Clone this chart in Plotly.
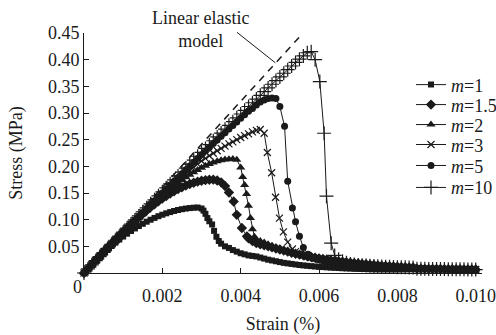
import plotly.graph_objects as go

# ---------------- data ----------------
# shared strain grid, 0.0000 ... 0.0100 step 1e-4
STRAIN_GRID = [0.0000, 0.0001, 0.0002, 0.0003, 0.0004, 0.0005, 0.0006, 0.0007, 0.0008, 0.0009,
               0.0010, 0.0011, 0.0012, 0.0013, 0.0014, 0.0015, 0.0016, 0.0017, 0.0018, 0.0019,
               0.0020, 0.0021, 0.0022, 0.0023, 0.0024, 0.0025, 0.0026, 0.0027, 0.0028, 0.0029,
               0.0030, 0.0031, 0.0032, 0.0033, 0.0034, 0.0035, 0.0036, 0.0037, 0.0038, 0.0039,
               0.0040, 0.0041, 0.0042, 0.0043, 0.0044, 0.0045, 0.0046, 0.0047, 0.0048, 0.0049,
               0.0050, 0.0051, 0.0052, 0.0053, 0.0054, 0.0055, 0.0056, 0.0057, 0.0058, 0.0059,
               0.0060, 0.0061, 0.0062, 0.0063, 0.0064, 0.0065, 0.0066, 0.0067, 0.0068, 0.0069,
               0.0070, 0.0071, 0.0072, 0.0073, 0.0074, 0.0075, 0.0076, 0.0077, 0.0078, 0.0079,
               0.0080, 0.0081, 0.0082, 0.0083, 0.0084, 0.0085, 0.0086, 0.0087, 0.0088, 0.0089,
               0.0090, 0.0091, 0.0092, 0.0093, 0.0094, 0.0095, 0.0096, 0.0097, 0.0098, 0.0099,
               0.0100]

# common residual tail for strain 0.0085 ... 0.0100
FAR_TAIL = [0.0080, 0.0079, 0.0078, 0.0077, 0.0076, 0.0075, 0.0074, 0.0073,
            0.0072, 0.0071, 0.0070, 0.0069, 0.0068, 0.0067, 0.0066, 0.0065]

# m = 1
M1_RISE = [0, .0081, .0159, .0234, .0306, .0376, .0443, .0507, .0569, .0627,
           .0683, .0737, .0787, .0835, .0880, .0922, .0962, .0999, .1033, .1065,
           .1093, .1119, .1142, .1163, .1181, .1196, .1208, .1217, .1224, .1228, .1210]
M1_DROP_X = [.00305, .0031, .00315, .0032, .00327, .00332, .00338, .00344, .0035, .0036,
             .0037, .0038, .0039, .0040, .0041, .0042, .0043, .0044]
M1_DROP_Y = [.117, .111, .103, .097, .091, .079, .068, .060, .055, .050,
             .047, .043, .040, .037, .035, .033, .032, .031]
M1_TAIL = [.029, .027, .025, .0235, .022, .0205, .019, .018, .017, .016,
           .015, .0142, .0135, .0128, .0122, .0116, .0111, .0106, .0101, .0097,
           .0093, .0089, .0086, .0083, .0080, .0078, .0076, .0074, .0072, .0071,
           .0070, .0069, .0069, .0068, .0068, .0068, .0069, .0070, .0071, .0072]

# m = 1.5
M15_RISE = [0, .0080, .0159, .0238, .0317, .0395, .0472, .0549, .0624, .0698,
            .0772, .0843, .0913, .0981, .1047, .1111, .1173, .1233, .1290, .1345,
            .1396, .1445, .1491, .1534, .1572, .1609, .1641, .1669, .1693, .1713,
            .1730, .1741, .1748, .1750, .1735, .1700, .1630]
M15_DROP_X = [.0037, .00382, .0039, .00403, .00416, .0042, .0043, .0044]
M15_DROP_Y = [.151, .134, .109, .0845, .0687, .065, .060, .056]
M15_TAIL = [.054, .052, .050, .048, .046, .044, .042, .040, .038, .036,
            .0345, .033, .0315, .030, .0287, .0275, .0263, .0252, .0241, .0231,
            .0221, .0212, .0203, .0194, .0186, .0178, .0170, .0163, .0156, .0149,
            .0143, .0137, .0131, .0126, .0121, .0116, .0112, .0108, .0105, .0102]

# m = 2
M2_RISE = [0, .0075, .0150, .0225, .0300, .0375, .0450, .0524, .0599, .0673,
           .0747, .0820, .0893, .0965, .1037, .1108, .1178, .1247, .1314, .1381,
           .1445, .1509, .1570, .1629, .1687, .1742, .1794, .1843, .1890, .1933,
           .1973, .2009, .2042, .2070, .2093, .2112, .2126, .2135, .2137, .2125, .1980]
M2_DROP_X = [.00405, .0041, .00415, .0042, .00425, .0043, .00435, .0044]
M2_DROP_Y = [.180, .165, .148, .126, .103, .082, .068, .063]
M2_TAIL = [.060, .057, .054, .051, .048, .046, .043, .041, .039, .037,
           .035, .0335, .032, .0305, .029, .0277, .0265, .0253, .0242, .0232,
           .0222, .0212, .0203, .0194, .0186, .0178, .0170, .0163, .0156, .0149,
           .0143, .0137, .0131, .0126, .0121, .0116, .0112, .0108, .0105, .0102]

# m = 3
M3_RISE = [0, .0078, .0156, .0234, .0312, .0390, .0466, .0542, .0618, .0694,
           .0770, .0843, .0916, .0988, .1059, .1130, .1200, .1270, .1340, .1410,
           .1480, .1545, .1610, .1674, .1737, .1800, .1860, .1920, .1980, .2040,
           .2100, .2150, .2198, .2245, .2292, .2338, .2380, .2420, .2460, .2500,
           .2540, .2575, .2610, .2645, .2675, .2690, .2620]
M3_DROP_X = [.00468, .00479, .00489, .00499, .00509, .0052, .00532, .0054]
M3_DROP_Y = [.226, .188, .142, .103, .077, .058, .045, .040]
M3_TAIL = [.036, .033, .031, .029, .027, .0255, .024, .0228, .0216, .0205,
           .0195, .0186, .0177, .0169, .0161, .0154, .0147, .0141, .0135, .013,
           .0125, .012, .0116, .0112, .0109, .0107, .0105, .0104, .0103, .0102]

# m = 5
M5_RISE = [0, .0077, .0154, .0231, .0307, .0383, .0459, .0536, .0611, .0687,
           .0762, .0837, .0912, .0987, .1061, .1136, .1209, .1283, .1356, .1429,
           .1502, .1575, .1648, .1720, .1791, .1863, .1934, .2006, .2076, .2147,
           .2217, .2287, .2356, .2426, .2494, .2563, .2631, .2700, .2766, .2833,
           .2901, .2967, .3034, .3085, .3150, .3205, .3245, .3270, .3280, .3270, .3120]
M5_DROP_X = [.00512, .0052, .00532, .0054, .0055, .0056, .00572]
M5_DROP_Y = [.275, .172, .122, .096, .069, .048, .035]
M5_TAIL = [.030, .027, .025, .023, .0215, .020, .019, .018, .017, .0162,
           .0155, .0148, .0142, .0137, .0132, .0128, .0124, .012, .0117, .0114,
           .0111, .0109, .0107, .0105, .0104, .0103, .0102]

# m = 10
M10_RISE = [0, .0077, .0154, .0231, .0308, .0384, .0461, .0538, .0614, .0691,
            .0767, .0843, .0919, .0995, .1071, .1147, .1222, .1297, .1372, .1447,
            .1522, .1597, .1672, .1746, .1820, .1894, .1968, .2042, .2115, .2189,
            .2262, .2335, .2407, .2480, .2552, .2624, .2696, .2768, .2838, .2909,
            .2981, .3051, .3122, .3192, .3262, .3332, .3401, .3470, .3539, .3608,
            .3677, .3745, .3813, .3881, .3948, .4010, .4070, .4130, .4150]
M10_DROP_X = [.0059, .00602, .00613, .00619, .00631, .0064]
M10_DROP_Y = [.400, .359, .262, .144, .056, .033]
M10_TAIL = [.026, .022, .019, .017, .0158, .015, .0145, .014, .0135, .013,
            .0126, .0122, .0119, .0116, .0113, .011, .0108, .0106, .0104, .0102]

# linear elastic model (dashed)
ELASTIC_X = [0.0, 0.00553]
ELASTIC_Y = [0.0, 0.445]

LABELS = ["<i>m</i>=1", "<i>m</i>=1.5", "<i>m</i>=2", "<i>m</i>=3", "<i>m</i>=5", "<i>m</i>=10"]
Y_TICKS = [0.05, 0.10, 0.15, 0.20, 0.25, 0.30, 0.35, 0.40, 0.45]
Y_TICKTEXT = ["0.05", "0.10", "0.15", "0.20", "0.25", "0.30", "0.35", "0.40", "0.45"]
X_TICKS = [0.002, 0.004, 0.006, 0.008, 0.010]
X_TICKTEXT = ["0.002", "0.004", "0.006", "0.008", "0.010"]


def build(rise, dx, dy, tail):
    start = 85 - len(tail)
    x = STRAIN_GRID[:len(rise)] + dx + STRAIN_GRID[start:85] + STRAIN_GRID[85:]
    y = rise + dy + tail + FAR_TAIL
    return x, y


series = [
    build(M1_RISE, M1_DROP_X, M1_DROP_Y, M1_TAIL),
    build(M15_RISE, M15_DROP_X, M15_DROP_Y, M15_TAIL),
    build(M2_RISE, M2_DROP_X, M2_DROP_Y, M2_TAIL),
    build(M3_RISE, M3_DROP_X, M3_DROP_Y, M3_TAIL),
    build(M5_RISE, M5_DROP_X, M5_DROP_Y, M5_TAIL),
    build(M10_RISE, M10_DROP_X, M10_DROP_Y, M10_TAIL),
]

INK = "#1a1a1a"
FONT = "Liberation Serif"

markers = [
    dict(symbol="square", size=6),
    dict(symbol="diamond", size=8),
    dict(symbol="triangle-up", size=8),
    dict(symbol="x-thin", size=7, line=dict(width=1.2, color=INK)),
    dict(symbol="circle", size=7),
    dict(symbol="cross-thin", size=10, line=dict(width=1.2, color=INK)),
]

# plot area in pixels: left 84, right 482, top 33, bottom 273.4
PL, PR, PT, PB = 84, 482, 33, 273.4
W, H = 496, 335
legend_rows = [85, 105, 125, 145, 166, 188]

fig = go.Figure()
legend_names = ["legend", "legend2", "legend3", "legend4", "legend5", "legend6"]
for i, ((x, y), lab, mk) in enumerate(zip(series, LABELS, markers)):
    mk = dict(mk)
    mk["color"] = INK
    fig.add_trace(go.Scatter(
        x=x, y=y, mode="lines+markers", name=lab,
        line=dict(color=INK, width=1), marker=mk, cliponaxis=False,
        legend=legend_names[i]))

fig.add_trace(go.Scatter(x=ELASTIC_X, y=ELASTIC_Y, mode="lines", showlegend=False,
                         line=dict(color=INK, width=1.5, dash="7px,6px")))

layout_legends = {}
for i, name in enumerate(legend_names):
    layout_legends[name] = dict(
        x=(411 - PL) / (PR - PL), xanchor="left",
        y=(PB - legend_rows[i]) / (PB - PT), yanchor="middle",
        bgcolor="rgba(0,0,0,0)", borderwidth=0, itemwidth=30,
        font=dict(family=FONT, size=18, color=INK))

fig.update_layout(
    width=W, height=H,
    margin=dict(l=PL, r=W - PR, t=PT, b=H - PB, pad=0, autoexpand=False),
    paper_bgcolor="white", plot_bgcolor="white",
    font=dict(family=FONT, size=18, color=INK),
    showlegend=True,
    **layout_legends,
)

fig.update_xaxes(
    range=[0, 0.01016], showgrid=False, zeroline=False, automargin=False,
    showline=True, linecolor=INK, linewidth=1,
    ticks="inside", ticklen=5, tickcolor=INK,
    tickvals=X_TICKS, ticktext=X_TICKTEXT, ticklabelstandoff=6,
    ticklabeloverflow="allow",
    tickfont=dict(family=FONT, size=18, color=INK),
    title=dict(text="Strain (%)", standoff=12, font=dict(family=FONT, size=18, color=INK)),
)
fig.update_yaxes(
    range=[0, 0.45], showgrid=False, zeroline=False, automargin=False,
    showline=True, linecolor=INK, linewidth=1,
    ticks="inside", ticklen=5, tickcolor=INK,
    tickvals=Y_TICKS, ticktext=Y_TICKTEXT,
    tickfont=dict(family=FONT, size=18, color=INK),
    title=dict(text="Stress (MPa)", standoff=20, font=dict(family=FONT, size=18, color=INK)),
)

fig.add_annotation(x=0, y=0, xref="x", yref="y", text="0", showarrow=False,
                   xshift=-7, yshift=-14, font=dict(size=18, family=FONT, color=INK))
fig.add_annotation(x=(200 - PL) / (PR - PL), y=(PB - 29) / (PB - PT), xref="paper", yref="paper",
                   text="Linear elastic<br>model", showarrow=False,
                   xanchor="center", yanchor="middle",
                   font=dict(size=18, family=FONT, color=INK))
fig.add_annotation(x=0.004886, y=0.394, xref="x", yref="y", text="",
                   showarrow=True, arrowhead=0, arrowwidth=1, arrowcolor=INK,
                   ax=-39, ay=-31, standoff=0, borderpad=0,
                   font=dict(size=1, family=FONT, color=INK))

fig.write_html("out.html")
